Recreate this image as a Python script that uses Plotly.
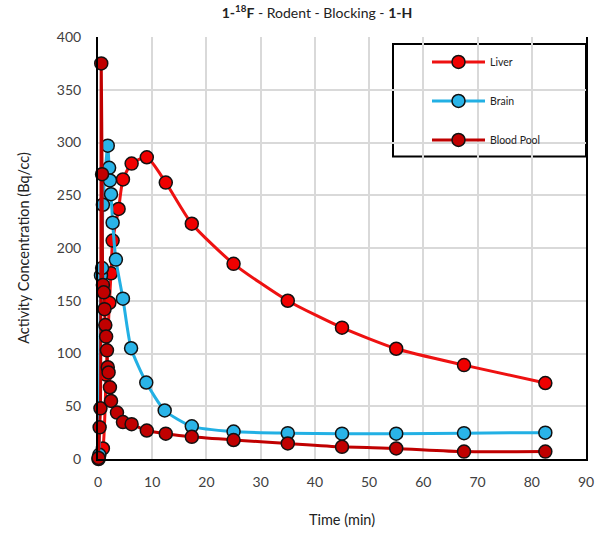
import plotly.graph_objects as go

# ---- data ----
liver_t = [0.1, 0.9, 1.5, 2.1, 2.4, 2.7, 3.8, 4.6, 6.2, 9.0, 12.5, 17.3, 25, 35, 45, 55, 67.5, 82.5]
liver_v = [0, 10, 80, 148, 176, 207, 237, 265, 280, 286, 262, 223, 185, 150, 124.5, 104.5, 89, 72]

brain_t = [0.25, 0.55, 0.75, 0.9, 1.8, 2.05, 2.2, 2.4, 2.7, 3.3, 4.6, 6.1, 8.9, 12.3, 17.3, 25, 35, 45, 55, 67.5, 82.5]
brain_v = [4, 174, 181, 241, 297, 276, 264, 251, 224, 189, 152, 105, 72.5, 46, 31, 26, 24.5, 24, 24, 24.5, 25]

blood_t = [0.1, 0.3, 0.45, 0.6, 0.75, 0.9, 1.05, 1.2, 1.35, 1.5, 1.65, 1.8, 1.95, 2.2, 2.4, 3.5, 4.6, 6.2, 9.0, 12.5, 17.3, 25, 35, 45, 55, 67.5, 82.5]
blood_v = [1, 30, 48, 375, 270, 165, 158, 142, 127, 116, 103, 87, 82, 68, 55, 44, 35, 33, 27, 24, 21, 18, 14.7, 11.5, 10, 7, 7]

x_ticks = [0, 10, 20, 30, 40, 50, 60, 70, 80, 90]
y_ticks = [0, 50, 100, 150, 200, 250, 300, 350, 400]

FONT = "Lato"

fig = go.Figure()

def add(name, t, v, line_color, marker_color, group):
    fig.add_trace(go.Scatter(
        x=t, y=v, name=name, mode="lines+markers",
        line=dict(color=line_color, width=3, shape="spline", smoothing=0.6),
        marker=dict(size=13, color=marker_color, line=dict(color="#111111", width=1.5)),
        cliponaxis=False, legendgroup=group,
    ))

add("Liver", liver_t, liver_v, "#ee1111", "#f00000", "a")
add("Brain", brain_t, brain_v, "#22b0e4", "#2ab4e8", "b")
add("Blood Pool", blood_t, blood_v, "#c00000", "#c00000", "c")

# legend frame
fig.add_shape(type="rect", xref="paper", yref="paper",
              x0=(393 - 98) / 488, x1=1.0, y0=(461 - 157) / 424, y1=(461 - 44) / 424,
              line=dict(color="black", width=2), fillcolor="white", layer="below")

fig.update_layout(
    width=608, height=538,
    margin=dict(l=98, r=22, t=37, b=77),
    paper_bgcolor="white", plot_bgcolor="white",
    font=dict(family=FONT, color="#404040", size=14),
    title=dict(
        text="<b>1-<sup>18</sup>F</b> - Rodent - Blocking - <b>1-H</b>",
        x=317 / 608, xanchor="center", y=1 - 13 / 538, yanchor="middle", yref="container",
        font=dict(family=FONT, size=14, color="#222222"),
    ),
    legend=dict(
        x=(427 - 98) / 488, xanchor="left", y=(461 - 47.5) / 424, yanchor="top",
        bgcolor="rgba(0,0,0,0)", borderwidth=0,
        itemwidth=53, tracegroupgap=20, traceorder="grouped",
        font=dict(family=FONT, size=10.5, color="#222222"),
    ),
    showlegend=True,
)

fig.update_xaxes(
    range=[0, 90], tickvals=x_ticks, ticktext=[str(v) for v in x_ticks],
    showgrid=True, gridcolor="#d9d9d9", gridwidth=1.5,
    showline=True, linecolor="black", linewidth=2,
    ticks="outside", ticklen=9, tickcolor="rgba(0,0,0,0)",
    zeroline=False,
    title=dict(text="Time (min)", standoff=26, font=dict(family=FONT, size=14.5, color="#222222")),
)
fig.update_yaxes(
    range=[0, 400], tickvals=y_ticks, ticktext=[str(v) for v in y_ticks],
    showgrid=True, gridcolor="#d9d9d9", gridwidth=1.5,
    showline=True, linecolor="black", linewidth=2, mirror=True,
    ticks="outside", ticklen=12, tickcolor="rgba(0,0,0,0)",
    zeroline=False,
    title=dict(text="Activity Concentration (Bq/cc)", standoff=24, font=dict(family=FONT, size=14.5, color="#222222")),
)

fig.write_html("out.html")
